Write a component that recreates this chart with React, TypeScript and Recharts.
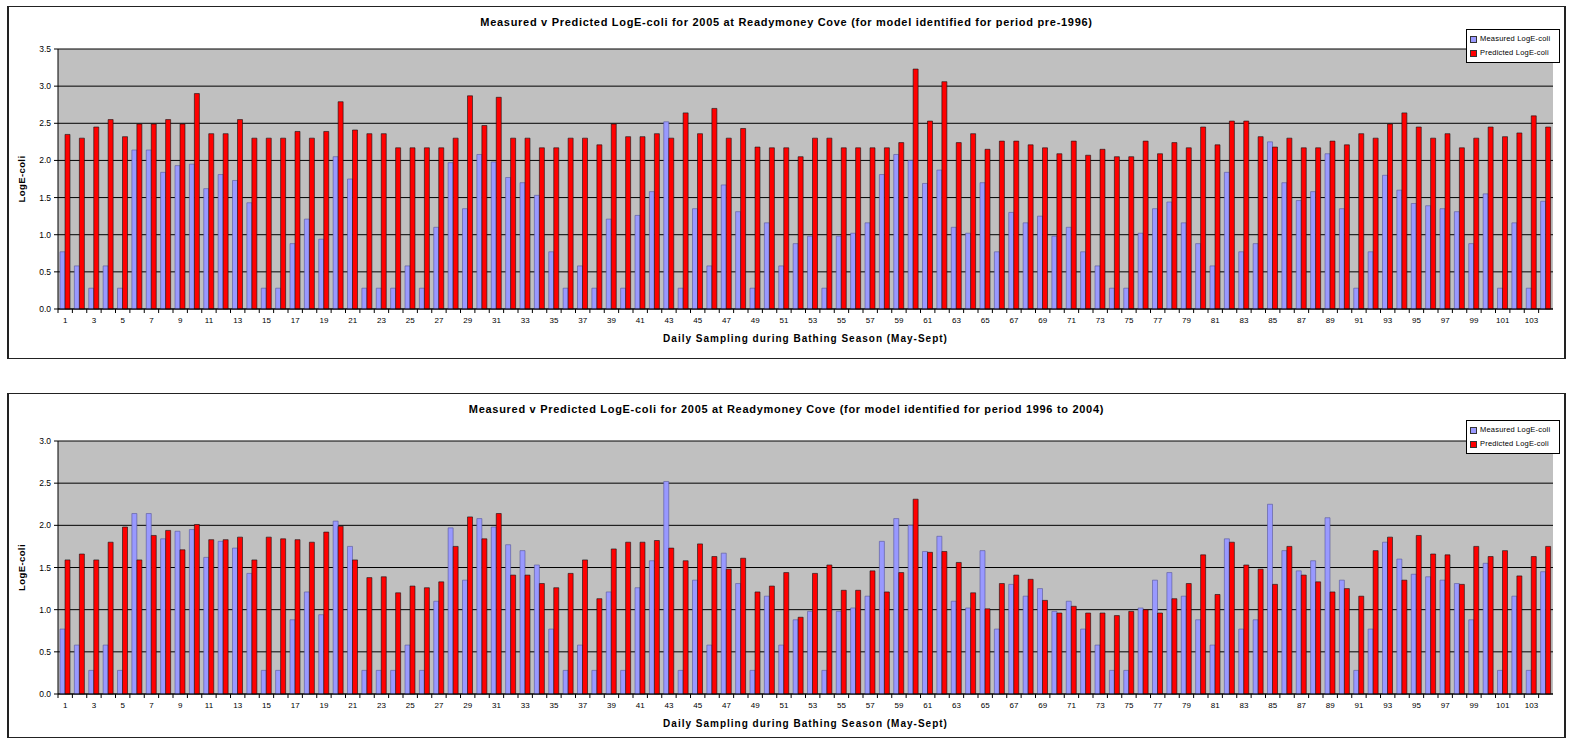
import React from 'react';
import { BarChart, Bar, XAxis, YAxis, CartesianGrid } from 'recharts';

const days = [
  1, 2, 3, 4, 5, 6, 7, 8, 9, 10, 11, 12, 13, 14, 15, 16, 17, 18, 19, 20,
  21, 22, 23, 24, 25, 26, 27, 28, 29, 30, 31, 32, 33, 34, 35, 36, 37, 38, 39, 40,
  41, 42, 43, 44, 45, 46, 47, 48, 49, 50, 51, 52, 53, 54, 55, 56, 57, 58, 59, 60,
  61, 62, 63, 64, 65, 66, 67, 68, 69, 70, 71, 72, 73, 74, 75, 76, 77, 78, 79, 80,
  81, 82, 83, 84, 85, 86, 87, 88, 89, 90, 91, 92, 93, 94, 95, 96, 97, 98, 99, 100,
  101, 102, 103, 104,
];

// measured log E-coli, same in both panels
const measured = [
  0.77, 0.58, 0.28, 0.58, 0.28, 2.14, 2.14, 1.84, 1.93, 1.95,
  1.62, 1.81, 1.73, 1.43, 0.28, 0.28, 0.88, 1.21, 0.94, 2.05,
  1.75, 0.28, 0.28, 0.28, 0.58, 0.28, 1.10, 1.97, 1.35, 2.08,
  1.98, 1.77, 1.70, 1.53, 0.77, 0.28, 0.58, 0.28, 1.21, 0.28,
  1.26, 1.58, 2.52, 0.28, 1.35, 0.58, 1.67, 1.31, 0.28, 1.16,
  0.58, 0.88, 0.98, 0.28, 0.98, 1.02, 1.16, 1.81, 2.08, 2.00,
  1.69, 1.87, 1.10, 1.02, 1.70, 0.77, 1.30, 1.16, 1.25, 0.98,
  1.10, 0.77, 0.58, 0.28, 0.28, 1.02, 1.35, 1.44, 1.16, 0.88,
  0.58, 1.84, 0.77, 0.88, 2.25, 1.70, 1.46, 1.58, 2.09, 1.35,
  0.28, 0.77, 1.80, 1.60, 1.42, 1.39, 1.35, 1.31, 0.88, 1.55,
  0.28, 1.16, 0.28, 1.45,
];

// model identified for period pre-1996
const predictedPre1996 = [
  2.35, 2.30, 2.45, 2.55, 2.32, 2.49, 2.49, 2.55, 2.49, 2.90,
  2.36, 2.36, 2.55, 2.30, 2.30, 2.30, 2.39, 2.30, 2.39, 2.79,
  2.41, 2.36, 2.36, 2.17, 2.17, 2.17, 2.17, 2.30, 2.87, 2.47,
  2.85, 2.30, 2.30, 2.17, 2.17, 2.30, 2.30, 2.21, 2.49, 2.32,
  2.32, 2.36, 2.30, 2.64, 2.36, 2.70, 2.30, 2.43, 2.18, 2.17,
  2.17, 2.05, 2.30, 2.30, 2.17, 2.17, 2.17, 2.17, 2.24, 3.23,
  2.53, 3.06, 2.24, 2.36, 2.15, 2.26, 2.26, 2.21, 2.17, 2.09,
  2.26, 2.07, 2.15, 2.05, 2.05, 2.26, 2.09, 2.24, 2.17, 2.45,
  2.21, 2.53, 2.53, 2.32, 2.18, 2.30, 2.17, 2.17, 2.26, 2.21,
  2.36, 2.30, 2.49, 2.64, 2.45, 2.30, 2.36, 2.17, 2.30, 2.45,
  2.32, 2.37, 2.60, 2.45,
];

// model identified for period 1996 to 2004
const predicted1996to2004 = [
  1.59, 1.66, 1.59, 1.80, 1.98, 1.59, 1.88, 1.94, 1.71, 2.01,
  1.83, 1.83, 1.86, 1.59, 1.86, 1.84, 1.83, 1.80, 1.92, 1.99,
  1.59, 1.38, 1.39, 1.20, 1.28, 1.26, 1.33, 1.75, 2.10, 1.84,
  2.14, 1.41, 1.41, 1.31, 1.26, 1.43, 1.59, 1.13, 1.72, 1.80,
  1.80, 1.82, 1.73, 1.58, 1.78, 1.63, 1.48, 1.61, 1.21, 1.28,
  1.44, 0.91, 1.43, 1.53, 1.23, 1.23, 1.46, 1.21, 1.44, 2.31,
  1.68, 1.69, 1.56, 1.20, 1.01, 1.31, 1.41, 1.36, 1.11, 0.96,
  1.04, 0.96, 0.96, 0.93, 0.98, 1.00, 0.96, 1.13, 1.31, 1.65,
  1.18, 1.80, 1.53, 1.48, 1.30, 1.75, 1.41, 1.33, 1.21, 1.25,
  1.16, 1.70, 1.86, 1.35, 1.88, 1.66, 1.65, 1.30, 1.75, 1.63,
  1.70, 1.40, 1.63, 1.75,
];

const yTicksTop = [0, 0.5, 1, 1.5, 2, 2.5, 3, 3.5];
const yTicksBottom = [0, 0.5, 1, 1.5, 2, 2.5, 3];

const titleTop =
  'Measured v Predicted LogE-coli for 2005 at Readymoney Cove (for model identified for period pre-1996)';
const titleBottom =
  'Measured v Predicted LogE-coli for 2005 at Readymoney Cove (for model identified for period 1996 to 2004)';
const xTitle = 'Daily Sampling during Bathing Season (May-Sept)';
const yTitle = 'LogE-coli';
const seriesNames = ['Measured LogE-coli', 'Predicted LogE-coli'];

const FONT = '"Liberation Sans", Arial, sans-serif';
const MEASURED_COLOR = '#9999ff';
const PREDICTED_COLOR = '#ff0000';

// Excel-style category tick: mark at band edge, label only on odd days
function DayTick(props: any) {
  const { x, y, payload } = props;
  const half = payload.offset || 7.2;
  const axisY = y - 6;
  return (
    <g>
      <line x1={x - half} y1={axisY} x2={x - half} y2={axisY + 4} stroke="#000" />
      {payload.value % 2 === 1 && (
        <text x={x} y={y + 8} textAnchor="middle" fontSize={8} fontFamily={FONT} fill="#000">
          {payload.value}
        </text>
      )}
    </g>
  );
}

function LegendBox({ top }: { top: number }) {
  const colors = [MEASURED_COLOR, PREDICTED_COLOR];
  return (
    <div
      style={{
        position: 'absolute',
        left: 1457,
        top,
        width: 94,
        boxSizing: 'border-box',
        border: '1px solid #000',
        background: '#fff',
        padding: '2px 3px',
        fontSize: 7.5,
        letterSpacing: 0.2,
        lineHeight: '14px',
        fontFamily: FONT,
        whiteSpace: 'nowrap',
      }}
    >
      {seriesNames.map((name, i) => (
        <div key={name} style={{ display: 'flex', alignItems: 'center', gap: 3 }}>
          <span
            style={{
              width: 5,
              height: 5,
              background: colors[i],
              border: '1px solid #333',
              display: 'inline-block',
            }}
          />
          <span>{name}</span>
        </div>
      ))}
    </div>
  );
}

interface PanelProps {
  top: number;
  height: number;
  title: string;
  predicted: number[];
  yTicks: number[];
  plotTop: number;
  axisHeight: number;
  legendTop: number;
}

function Panel({ top, height, title, predicted, yTicks, plotTop, axisHeight, legendTop }: PanelProps) {
  const data = days.map((d, i) => ({ day: d, measured: measured[i], predicted: predicted[i] }));
  return (
    <div
      style={{
        position: 'absolute',
        left: 7,
        top,
        width: 1559,
        height,
        boxSizing: 'border-box',
        border: '1px solid #222',
        borderLeftWidth: 2,
        borderRightWidth: 2,
        background: '#fff',
      }}
    >
      <div
        style={{
          position: 'absolute',
          left: 0,
          right: 0,
          top: 9,
          textAlign: 'center',
          fontSize: 11,
          letterSpacing: 0.7,
          fontWeight: 'bold',
          fontFamily: FONT,
        }}
      >
        {title}
      </div>
      <BarChart
        width={1555}
        height={height - 2}
        data={data}
        margin={{ top: plotTop, right: 11, bottom: 0, left: -1 }}
        barGap={0}
        barSize={5}
      >
        <CartesianGrid vertical={false} stroke="#000" fill="#c0c0c0" />
        <XAxis
          dataKey="day"
          interval={0}
          height={axisHeight}
          tickLine={false}
          tickSize={4}
          tickMargin={2}
          axisLine={{ stroke: '#000' }}
          tick={<DayTick />}
          label={{
            value: xTitle,
            position: 'insideBottom',
            offset: axisHeight - 33,
            fontSize: 10,
            letterSpacing: 1,
            fontWeight: 'bold',
            fontFamily: FONT,
            fill: '#000',
          }}
        />
        <YAxis
          width={50}
          domain={[0, yTicks[yTicks.length - 1]]}
          ticks={yTicks}
          interval={0}
          tickFormatter={(v: number) => v.toFixed(1)}
          tick={{ fontSize: 8.5, fontFamily: FONT, fill: '#000' }}
          tickSize={4}
          tickMargin={3}
          axisLine={{ stroke: '#000' }}
          tickLine={{ stroke: '#000' }}
          label={{
            value: yTitle,
            angle: -90,
            position: 'insideLeft',
            offset: 14,
            fontSize: 9.5,
            letterSpacing: 0.4,
            fontWeight: 'bold',
            fontFamily: FONT,
            fill: '#000',
            style: { textAnchor: 'middle' },
          }}
        />
        <Bar
          dataKey="measured"
          name={seriesNames[0]}
          fill={MEASURED_COLOR}
          stroke="#55559a"
          strokeWidth={0.6}
          isAnimationActive={false}
        />
        <Bar
          dataKey="predicted"
          name={seriesNames[1]}
          fill={PREDICTED_COLOR}
          stroke="#111"
          strokeWidth={0.6}
          isAnimationActive={false}
        />
      </BarChart>
      <LegendBox top={legendTop} />
    </div>
  );
}

export default function App() {
  return (
    <div
      style={{
        position: 'absolute',
        left: 0,
        top: 0,
        width: 1574,
        height: 741,
        background: '#fff',
        fontFamily: FONT,
      }}
    >
      <Panel
        top={6}
        height={353}
        title={titleTop}
        predicted={predictedPre1996}
        yTicks={yTicksTop}
        plotTop={42}
        axisHeight={49}
        legendTop={22}
      />
      <Panel
        top={393}
        height={345}
        title={titleBottom}
        predicted={predicted1996to2004}
        yTicks={yTicksBottom}
        plotTop={47}
        axisHeight={43}
        legendTop={26}
      />
    </div>
  );
}
